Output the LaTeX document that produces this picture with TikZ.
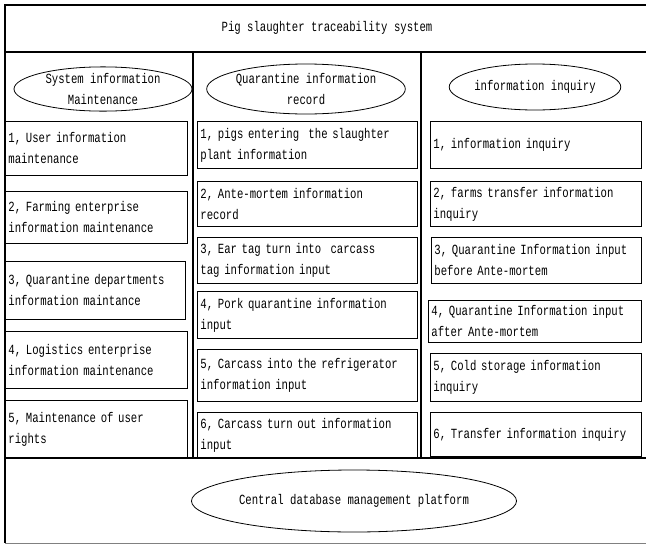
\documentclass[tikz,border=0pt]{standalone}
\usepackage{fontspec}
\setmainfont[FakeStretch=0.76]{Liberation Mono}
\usetikzlibrary{shapes.geometric}
\tikzset{
	itembox/.style={draw, rectangle, anchor=north west, align=left, inner xsep=3pt, inner ysep=0pt, line width=0.9pt},
	headell/.style={draw, ellipse, align=center, inner sep=0pt, line width=0.8pt},
	frameline/.style={line width=1.3pt}
}
\begin{document}
\begin{tikzpicture}[x=1pt,y=-1pt,font=\fontsize{14}{21}\selectfont]
	\useasboundingbox (0,0) rectangle (646,544);
	% frame
	\draw[frameline] (646,5) -- (5,5) -- (5,543);
	\draw[line width=1pt, gray] (5,543) -- (646,543);
	\draw[frameline] (5,52) -- (646,52);
	\draw[frameline] (5,458) -- (646,458);
	\draw[frameline] (193,52) -- (193,458);
	\draw[frameline] (421,52) -- (421,458);
	\node at (327,28) (title) {Pig slaughter traceability system};
	% column heads
	\node[headell, minimum width=178pt, minimum height=44pt] at (103,89) (sysinfo) {System information\\Maintenance};
	\node[headell, minimum width=192pt, minimum height=50pt] at (306,89) (quarinfo) {Quarantine information\\record};
	\node[headell, minimum width=164pt, minimum height=46pt] at (535,87) (inquiry) {information inquiry};
	% system information maintenance
	\node[itembox, text width=176pt, minimum height=54pt] at (5,121) (sys1) {1, User information\\maintenance};
	\node[itembox, text width=176pt, minimum height=52pt] at (5,191) (sys2) {2, Farming enterprise\\information maintenance};
	\node[itembox, text width=174pt, minimum height=58pt] at (5,261) (sys3) {3, Quarantine departments\\information maintance};
	\node[itembox, text width=176pt, minimum height=57pt] at (5,331) (sys4) {4, Logistics enterprise\\information maintenance};
	\node[itembox, text width=176pt, minimum height=58pt] at (5,400) (sys5) {5, Maintenance of user\\rights};
	% quarantine information record
	\node[itembox, text width=214pt, minimum height=47pt] at (197,121) (quar1) {1, pigs entering\ \ the slaughter\\plant information};
	\node[itembox, text width=214pt, minimum height=45pt] at (197,181) (quar2) {2, Ante-mortem information\\record};
	\node[itembox, text width=214pt, minimum height=46pt] at (197,237) (quar3) {3, Ear tag turn into\ \ carcass\\tag information input};
	\node[itembox, text width=214pt, minimum height=47pt] at (197,291) (quar4) {4, Pork quarantine information\\input};
	\node[itembox, text width=214pt, minimum height=52pt] at (197,349) (quar5) {5, Carcass into the refrigerator\\information input};
	\node[itembox, text width=214pt, minimum height=46pt] at (197,412) (quar6) {6, Carcass turn out information\\input};
	% information inquiry
	\node[itembox, text width=205pt, minimum height=47pt] at (430,121) (inq1) {1, information inquiry};
	\node[itembox, text width=205pt, minimum height=45pt] at (430,181) (inq2) {2, farms transfer information\\inquiry};
	\node[itembox, text width=204pt, minimum height=46pt] at (431,237) (inq3) {3, Quarantine Information input\\before Ante-mortem};
	\node[itembox, text width=207pt, minimum height=42pt] at (428,300) (inq4) {4, Quarantine Information input\\after Ante-mortem};
	\node[itembox, text width=205pt, minimum height=48pt] at (430,353) (inq5) {5, Cold storage information\\inquiry};
	\node[itembox, text width=205pt, minimum height=44pt] at (430,412) (inq6) {6, Transfer information inquiry};
	% database
	\node[headell, minimum width=308pt, minimum height=62pt] at (354,501) (database) {Central database management platform};
\end{tikzpicture}
\end{document}
